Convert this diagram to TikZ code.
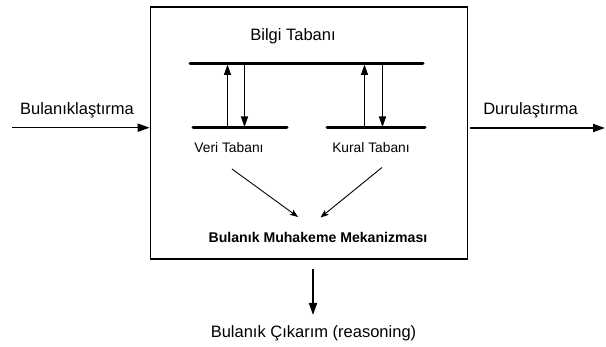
\documentclass[tikz,border=0pt]{standalone}
\usepackage{fontspec}
\setmainfont{Liberation Sans}
\usetikzlibrary{arrows.meta}
\begin{document}
\begin{tikzpicture}[x=1pt,y=-1pt,
  lbl/.style={inner sep=0pt,font=\fontsize{16.5}{19}\selectfont},
  smalllbl/.style={inner sep=0pt,font=\fontsize{13.8}{16}\selectfont},
  boldlbl/.style={inner sep=0pt,font=\fontsize{14.1}{16}\selectfont\bfseries},
  bar/.style={line width=3pt,line cap=round},
  flow/.style={line width=1.6pt,-{Triangle[length=12pt,width=8pt]}},
  link/.style={line width=1.4pt,-{Triangle[length=10.5pt,width=7pt]}},
  slant/.style={line width=0.9pt,-{Stealth[length=8pt,width=6pt,inset=1.5pt]}}]
\useasboundingbox (0,0) rectangle (606,347);
% outer system box
\node[draw,line width=1.7pt,minimum width=317pt,minimum height=252pt,inner sep=0pt]
  (sys) at (309,133) {};
% knowledge base bars
\coordinate (kbL) at (190,63.5);
\coordinate (kbR) at (423,63.5);
\coordinate (vbL) at (193,127.7);
\coordinate (vbR) at (287,127.7);
\coordinate (rbL) at (327,127.7);
\coordinate (rbR) at (425,127.7);
\draw[bar] (kbL) -- (kbR);
\draw[bar] (vbL) -- (vbR);
\draw[bar] (rbL) -- (rbR);
% links between the bases
\coordinate (v1b) at (227.5,127.7); \coordinate (v1t) at (227.5,64.5);
\coordinate (v2t) at (244.5,63.5);  \coordinate (v2b) at (244.5,127);
\coordinate (r1b) at (364.5,127.7); \coordinate (r1t) at (364.5,64.5);
\coordinate (r2t) at (382.5,63.5);  \coordinate (r2b) at (382.5,127);
\draw[link] (v1b) -- (v1t);
\draw[link] (v2t) -- (v2b);
\draw[link] (r1b) -- (r1t);
\draw[link] (r2t) -- (r2b);
% labels
\node[lbl] (kb) at (293,36.5) {Bilgi Tabanı};
\node[smalllbl] (vb) at (229,148) {Veri Tabanı};
\node[smalllbl] (rb) at (371,148) {Kural Tabanı};
\node[boldlbl] (mech) at (318,237.5) {Bulanık Muhakeme Mekanizması};
% inference arrows
\coordinate (d1s) at (232,169);
\coordinate (d1e) at (298,217);
\coordinate (d2s) at (382,167.5);
\coordinate (d2e) at (320.5,217.5);
\draw[slant] (d1s) -- (d1e);
\draw[slant] (d2s) -- (d2e);
% input / output
\coordinate (inS) at (12,127.7);
\coordinate (outE) at (605,128);
\coordinate (outS) at (470,128);
\draw[flow] (inS) -- (sys.west |- inS);
\draw[flow] (outS) -- (outE);
\node[lbl] (fuzz) at (77,110.5) {Bulanıklaştırma};
\node[lbl] (defuzz) at (530.5,110.5) {Durulaştırma};
% reasoning output
\coordinate (rs) at (313,269.5);
\coordinate (re) at (313,315);
\draw[flow] (rs) -- (re);
\node[lbl] (reason) at (313.5,333) {Bulanık Çıkarım (reasoning)};
\end{tikzpicture}
\end{document}
